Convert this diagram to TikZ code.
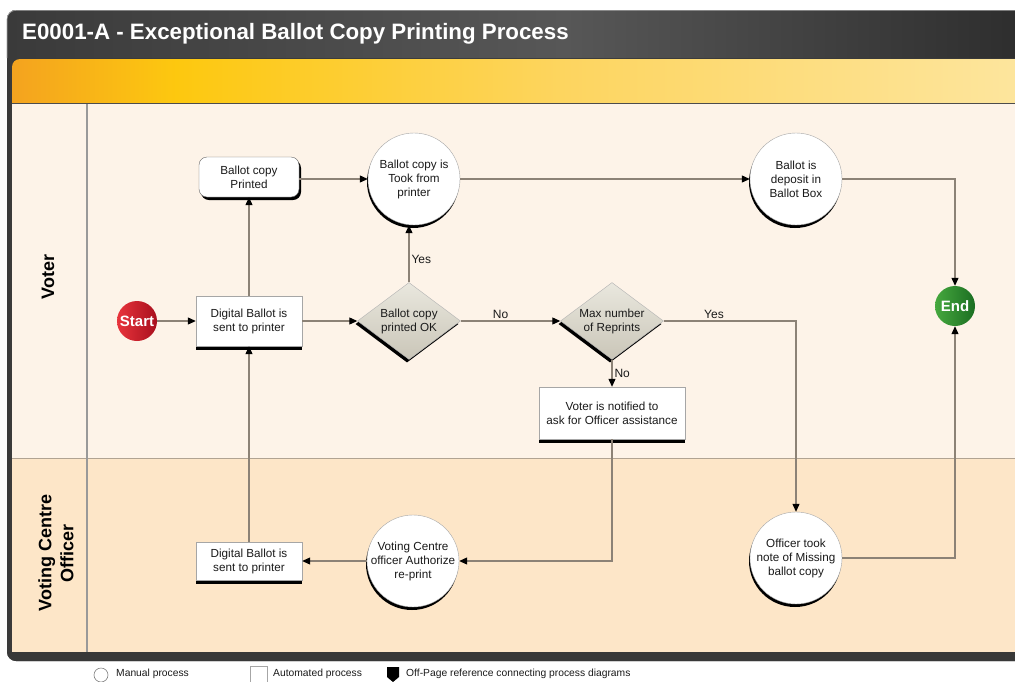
\documentclass[tikz,border=0pt]{standalone}
\usepackage{fontspec}
\setmainfont{Liberation Sans}
\usetikzlibrary{shapes.geometric,arrows.meta,shadows,calc}

\definecolor{hdrA}{HTML}{3A3A3A}
\definecolor{hdrB}{HTML}{575757}
\definecolor{hdrC}{HTML}{2C2C2C}
\definecolor{bandA}{HTML}{F4A31F}
\definecolor{bandB}{HTML}{FDC80F}
\definecolor{bandC}{HTML}{FDD560}
\definecolor{bandD}{HTML}{FDE6A0}
\definecolor{laneVoter}{HTML}{FDF3E8}
\definecolor{laneOfficer}{HTML}{FDE6C8}
\definecolor{flowline}{HTML}{8C8276}
\definecolor{decA}{HTML}{E9E7DE}
\definecolor{decB}{HTML}{CAC6B8}
\definecolor{startA}{HTML}{E8343C}
\definecolor{startB}{HTML}{A80F1D}
\definecolor{endA}{HTML}{46A83E}
\definecolor{endB}{HTML}{1B6E22}
\definecolor{txt}{HTML}{1A1A1A}

% horizontal shadings: the 25bp..75bp range spans the filled path
\pgfdeclarehorizontalshading{headershade}{100bp}{color(0bp)=(hdrA); color(25bp)=(hdrA); color(52bp)=(hdrB); color(75bp)=(hdrC); color(100bp)=(hdrC)}
\pgfdeclarehorizontalshading{bandshade}{100bp}{color(0bp)=(bandA); color(25bp)=(bandA); color(33bp)=(bandB); color(52bp)=(bandC); color(75bp)=(bandD); color(100bp)=(bandD)}

\begin{document}
\begin{tikzpicture}[x=1pt,y=-1pt,
  nodefont/.style={font=\fontsize{11.7}{14}\selectfont, text=txt, align=center},
  autobox/.style={nodefont, rectangle, fill=white, draw=gray!70, inner sep=0pt,
    drop shadow={shadow xshift=0pt, shadow yshift=-4pt, fill=black, opacity=1}},
  printbox/.style={nodefont, rectangle, rounded corners=8pt, fill=white, draw=gray!80!black,
    minimum width=100pt, minimum height=40pt, inner sep=0pt,
    drop shadow={shadow xshift=2pt, shadow yshift=-3pt, fill=black, opacity=1}},
  manual/.style={nodefont, circle, fill=white, draw=gray!70, minimum size=92pt, inner sep=-6pt,
    drop shadow={shadow xshift=-1pt, shadow yshift=-3pt, fill=black, opacity=1}},
  decision/.style={nodefont, diamond, aspect=1.33, inner sep=0pt, minimum width=103pt,
    minimum height=77pt, draw=gray!60, top color=decA, bottom color=decB,
    drop shadow={shadow xshift=-2pt, shadow yshift=-3pt, fill=black, opacity=1}},
  terminal/.style={circle, minimum size=40pt, inner sep=0pt, text=white,
    font=\fontsize{15}{15}\bfseries\selectfont},
  flow/.style={draw=flowline, line width=1.1pt, -{Triangle[length=8pt,width=7pt,color=black]}},
  lbl/.style={font=\fontsize{12}{12}\selectfont, text=txt, inner sep=2pt},
  lanelabel/.style={font=\fontsize{18}{22}\bfseries\selectfont, text=black, align=center, rotate=90},
  legendtxt/.style={font=\fontsize{10.3}{10.3}\selectfont, text=txt, anchor=west, inner sep=0pt}
]
\useasboundingbox (0,0) rectangle (1015,681);
\clip (0,0) rectangle (1015,681);

% outer frame and title bar
\fill[hdrA, rounded corners=9pt] (7,10) rectangle (1040,661);
\shade[shading=headershade] (7,58) [rounded corners=9pt] |- (1040,10) [sharp corners] -- (1040,58) -- cycle;
\draw[gray!70, line width=0.6pt] (7,58) [rounded corners=9pt] |- (1040,10.3);
\fill[black!78] (7,652) [rounded corners=9pt] |- (1040,661) [sharp corners] -- (1040,652) -- cycle;

% orange banner
\shade[shading=bandshade] (12,103) [rounded corners=8pt] |- (1040,59) [sharp corners] -- (1040,103) -- cycle;

% swimlanes
\fill[laneVoter] (12,104) rectangle (1040,458);
\fill[laneOfficer] (12,458) rectangle (1040,652);
\draw[black!70, line width=1.4pt] (12,103.5) -- (1040,103.5);
\draw[black!25!laneOfficer!80!gray, line width=1pt] (12,458) -- (1040,458);
\draw[gray!80, line width=1.2pt] (87,104) -- (87,652);

\node[anchor=west, inner sep=0pt, text=white, font=\fontsize{22.3}{22}\bfseries\selectfont] (title) at (22,34)
  {E0001-A - Exceptional Ballot Copy Printing Process};

\node[lanelabel] (voterlane) at (48,277) {Voter};
\node[lanelabel] (officerlane) at (56,553) {Voting Centre\\Officer};

% process nodes
\node[terminal, left color=startA, right color=startB] (start) at (137,321) {Start};
\node[autobox, minimum width=106pt, minimum height=50pt] (dbv) at (249,321) {Digital Ballot is\\sent to printer};
\node[printbox] (bcp) at (249,177) {Ballot copy\\Printed};
\node[manual] (took) at (414,179) {Ballot copy is\\Took from\\printer};
\node[decision] (okd) at (409,321) {Ballot copy\\printed OK};
\node[decision] (maxd) at (612,321) {Max number\\of Reprints};
\node[autobox, minimum width=146pt, minimum height=52pt] (notify) at (612,413) {Voter is notified to\\ask for Officer assistance};
\node[manual] (dep) at (796,179) {Ballot is\\deposit in\\Ballot Box};
\node[terminal, left color=endA, right color=endB] (end) at (955,306) {End};
\node[autobox, minimum width=106pt, minimum height=38pt] (dbo) at (249,561) {Digital Ballot is\\sent to printer};
\node[manual] (auth) at (413,561) {Voting Centre\\officer Authorize\\re-print};
\node[manual] (off) at (796,558) {Officer took\\note of Missing\\ballot copy};

% connectors
\draw[flow] (start) -- (dbv);
\draw[flow] (dbv) -- (bcp);
\draw[flow] (took.west -| bcp.east) -- (took.west);
\draw[flow] (dbv) -- (okd);
\draw[flow] (okd.north) -- node[lbl, right, pos=0.4] (yes1) {Yes} (okd.north |- took.south);
\draw[flow] (okd) -- node[lbl, above, pos=0.4] (no1) {No} (maxd);
\draw[flow] (took) -- (dep);
\draw[flow] (dep) -| (end);
\draw[flow] (maxd) -| node[lbl, above, pos=0.19] (yes2) {Yes} (off);
\draw[flow] (maxd) -- node[lbl, right, pos=0.5] (no2) {No} (notify);
\draw[flow] (notify) |- (auth);
\draw[flow] (auth) -- (dbo);
\draw[flow] (dbo) -- (dbv);
\draw[flow] (off) -| (end);

% legend
\draw[gray, fill=white, line width=0.6pt] (101,675) circle (7);
\node[legendtxt] (lgmanual) at (116,674) {Manual process};
\draw[gray!70, fill=white, line width=0.6pt] (250,666) rectangle (267,684);
\node[legendtxt] (lgauto) at (273,674) {Automated process};
\fill[black] (387,667) -- (399,667) -- (399,677) -- (393,682) -- (387,677) -- cycle;
\node[legendtxt] (lgoff) at (406,674) {Off-Page reference connecting process diagrams};
\end{tikzpicture}
\end{document}
